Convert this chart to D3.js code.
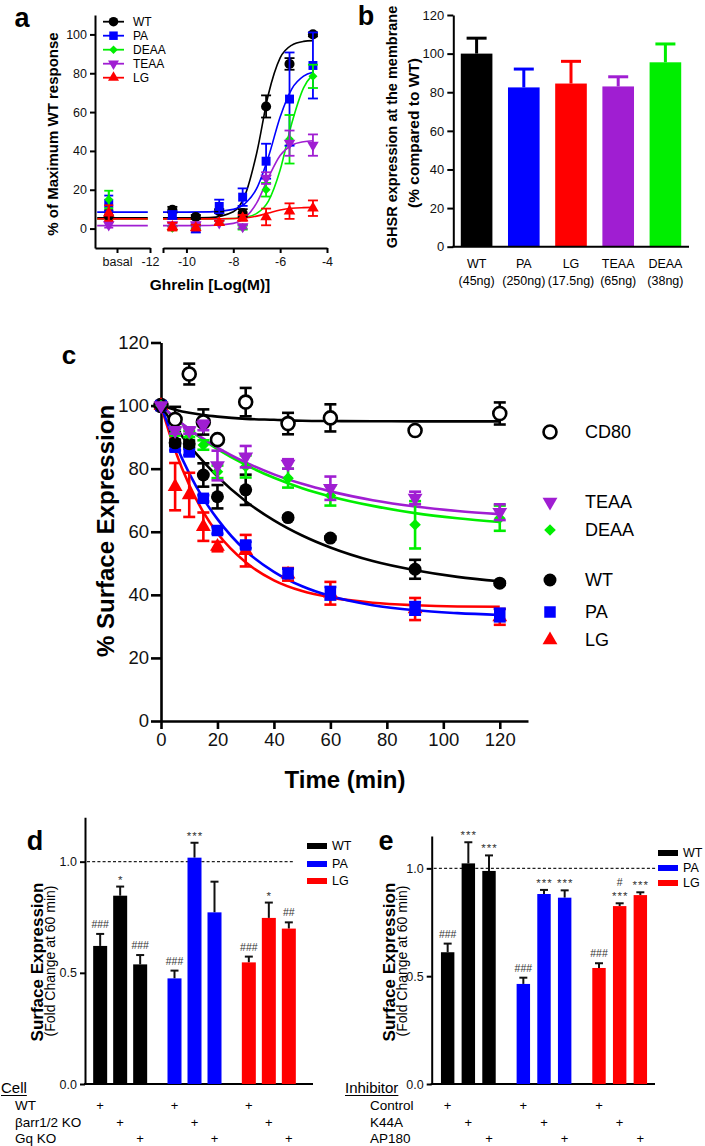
<!DOCTYPE html>
<html><head><meta charset="utf-8">
<script src="https://cdn.jsdelivr.net/npm/d3@7"></script>
<style>body{margin:0;background:#fff}svg{display:block}</style>
</head><body><svg id="chart" width="705" height="1146"></svg>
<script>
// ================= DATA =================
// colours
const COL = {WT:"#000000", PA:"#0000ff", LG:"#ff0000", TEAA:"#a01ed2", DEAA:"#00ee00", CD80:"#000000"};

// ---- panel a : dose response ----
const aSeries = ["WT","PA","DEAA","TEAA","LG"];
const aDoses = [-10.6,-9.6,-8.6,-7.6,-6.6,-5.6,-4.6];
const aBasal = [6.5,13,15,2,8];
const aBasalErr = [3,4,4.5,1.5,4];
const aWT = [9.7,6,9,8,62.9,84.8,100];      const aWTerr = [1.5,1,1,2,5.7,3,1];
const aPA = [7,0,11.4,16.2,34.7,66.7,84];   const aPAerr = [2,2,3.5,4.5,9,24,17];
const aDEAA = [0.2,1,3,0.5,20,46,78.4];     const aDEAAerr = [1,1,1,1,3.5,12.5,6];
const aTEAA = [2,2,3,1,26,44,43];           const aTEAAerr = [1,1,1,1,3,6.5,5.5];
const aLG = [1,0.5,3,5.5,6,9,10.5];         const aLGerr = [2,1.5,1,1.5,4.3,4,4];
const aCurveX = [-11,-10,-9,-8,-7.5,-7,-6.5,-6,-5.5,-5,-4.6];
const aWTfit = [5.5,5.5,5.7,8.7,17.1,38.9,69.2,87.9,94.5,96.4,96.8];
const aPAfit = [8.5,8.5,8.6,9.9,12.9,20.7,36.9,57.5,72,78.5,80.5];
const aDEAAfit = [5,5,5,5.2,5.8,7.8,14.2,30.2,54.4,72.5,79.4];
const aTEAAfit = [1.5,1.5,1.6,2.7,5.6,13.2,26.3,37.6,42.9,44.7,45.2];
const aLGfit = [5,5,5,5.2,5.5,6.4,8,9.6,10.5,10.8,10.9];
const aYTicks = [0,20,40,60,80,100];
const aXTicks = [-10,-8,-6,-4];

// ---- panel b ----
const bCats = ["WT","PA","LG","TEAA","DEAA"];
const bSub = ["(45ng)","(250ng)","(17.5ng)","(65ng)","(38ng)"];
const bVals = [100,82.5,84.5,83,95.5];
const bErr = [8,9.5,11.5,5,9.5];
const bYTicks = [0,20,40,60,80,100,120];

// ---- panel c : time course ----
const cTimes = [0,5,10,15,20,30,45,60,90,120];
const cCD80 = [100,95.6,110,94.8,89.2,101.1,94.3,96.1,92.1,97.5];  const cCD80err = [0,4,3.3,4,0,4.5,3.4,4.3,0,3.5];
const cTEAA = [100,92.1,92.1,93.7,81,83.8,81.5,73.8,70.7,66.2];    const cTEAAerr = [0,1,1,1.5,4.7,3.4,1.5,3.7,2,2.5];
const cDEAA = [100,91.5,91,87.5,79,80.7,77,71.5,62.2,64.3];        const cDEAAerr = [0,1,1,1.5,2,3.5,3,3.2,7.5,4];
const cWT = [100,88.2,87.9,78,71.1,73.3,64.5,58,48.1,43.7];        const cWTerr = [0,1,1,3.7,3.7,4.8,0.5,0.5,3,0.5];
const cPA = [100,86.8,85.3,70.6,60.4,55.8,46.8,40.5,35.7,33.6];    const cPAerr = [0,1,1,1,1,1,1.5,2,2,2];
const cLG = [100,74.3,71.7,61.6,55.3,54,46.5,40.5,35.5,33];        const cLGerr = [0,7.5,7,4.5,1.5,5,2,3.6,3.5,2.5];
const cFitT = [0,5,10,15,20,30,40,50,60,75,90,105,120];
const cCD80fit = [100,98.7,97.7,97,96.5,95.8,95.5,95.2,95.1,95.05,95,95,95];
const cTEAAfit = [100,96.1,92.6,89.5,86.7,82,78.2,75.2,72.8,70,68,66.6,65.6];
const cDEAAfit = [100,96,92.4,89.1,86.2,81.2,77.1,73.8,71.2,68.2,65.9,64.3,63.1];
const cWTfit = [100,93.3,87.4,82.2,77.5,69.7,63.6,58.8,55,50.7,47.8,45.7,44.3];
const cPAfit = [100,88.2,78.5,70.5,64,54,47.3,42.7,39.6,36.7,35.1,34.2,33.6];
const cLGfit = [100,85.8,74.8,66.2,59.5,50.3,44.6,41.2,39.2,37.5,36.7,36.3,36.2];
const cTicks = [0,20,40,60,80,100,120];
const cLegend = ["CD80","TEAA","DEAA","WT","PA","LG"];

// ---- panel d ----
const dGroups = ["WT","PA","LG"];
const dConds = ["WT","βarr1/2 KO","Gq KO"];
const dWT = [0.621,0.847,0.538]; const dWTerr = [0.054,0.041,0.042]; const dWTann = ["###","*","###"];
const dPA = [0.475,1.018,0.772]; const dPAerr = [0.035,0.067,0.138]; const dPAann = ["###","***",""];
const dLG = [0.547,0.747,0.699]; const dLGerr = [0.026,0.069,0.028]; const dLGann = ["###","*","##"];
// ---- panel e ----
const eConds = ["Control","K44A","AP180"];
const eWT = [0.611,1.023,0.988]; const eWTerr = [0.04,0.098,0.072]; const eWTann = ["###","***","***"];
const ePA = [0.464,0.881,0.864]; const ePAerr = [0.029,0.019,0.034]; const ePAann = ["###","***","***"];
const eLG = [0.538,0.825,0.876]; const eLGerr = [0.022,0.013,0.013]; const eLGann = ["###","#|***","***"];
const deTicks = [0,0.5,1.0];

// ================= DRAW =================
const FONT = '"Liberation Sans", Arial, Helvetica, sans-serif';
const svg = d3.select("#chart").attr("font-family", FONT);
svg.append("rect").attr("width",705).attr("height",1146).attr("fill","#fff");

function styleAxis(g, sw, fs){
  g.attr("font-family", FONT);
  g.select(".domain").attr("stroke","#000").attr("stroke-width",sw);
  g.selectAll(".tick line").attr("stroke","#000").attr("stroke-width",sw);
  g.selectAll(".tick text").attr("fill","#111").style("font-size",fs+"px");
}
function label(x,y,str,size,weight,anchor){
  return svg.append("text").attr("x",x).attr("y",y).attr("text-anchor",anchor||"start")
    .style("font-size",size+"px").style("font-weight",weight||"normal").attr("fill","#000").text(str);
}
function vlabel(x,y,str,size,weight){
  return svg.append("text").attr("transform",`translate(${x},${y}) rotate(-90)`)
    .attr("text-anchor","middle").attr("dominant-baseline","central")
    .style("font-size",size+"px").style("font-weight",weight||"normal").attr("fill","#000").text(str);
}
const SYM = {WT:d3.symbolCircle, CD80:d3.symbolCircle, PA:d3.symbolSquare, LG:d3.symbolTriangle, TEAA:d3.symbolTriangle, DEAA:d3.symbolDiamond2};
function marker(g, name, x, y, k){
  const sizes = {WT:80,CD80:80,PA:80,LG:58,TEAA:58,DEAA:52};
  const p = d3.symbol().type(SYM[name]).size(sizes[name]*k)();
  const rot = name==="TEAA" ? " rotate(180)" : "";
  const el = g.append("path").attr("d",p).attr("transform",`translate(${x},${y})${rot}`);
  if(name==="CD80") el.attr("fill","#fff").attr("stroke","#000").attr("stroke-width",2.6);
  else el.attr("fill",COL[name]);
  return el;
}
function errbar(g, x, y0, y1, cap, color, sw){
  g.append("line").attr("x1",x).attr("x2",x).attr("y1",y0).attr("y2",y1).attr("stroke",color).attr("stroke-width",sw);
  g.append("line").attr("x1",x-cap).attr("x2",x+cap).attr("y1",y1).attr("y2",y1).attr("stroke",color).attr("stroke-width",sw);
}

// ---------- panel a ----------
{
  const g = svg.append("g");
  const y = d3.scaleLinear().domain([-10,110]).range([248,15]);
  const xb = d3.scaleLinear().domain([-14,-12]).range([95,150]);
  const x = d3.scaleLinear().domain([-11,-4]).range([163,327]);
  const basalMark = -13.5, basalTick = -13.2;
  const ya = g.append("g").attr("transform","translate(95,0)")
    .call(d3.axisLeft(y).tickValues(aYTicks).tickSize(5).tickSizeOuter(0).tickPadding(3));
  styleAxis(ya,2,12.5);
  const xa1 = g.append("g").attr("transform","translate(0,248)")
    .call(d3.axisBottom(xb).tickValues([basalTick,-12]).tickSize(5).tickSizeOuter(0).tickPadding(4)
      .tickFormat(d=> d===-12 ? "-12" : "basal"));
  styleAxis(xa1,2,12.5);
  const xa2 = g.append("g").attr("transform","translate(0,248)")
    .call(d3.axisBottom(x).tickValues([-11].concat(aXTicks)).tickSize(5).tickSizeOuter(0).tickPadding(4)
      .tickFormat(d=> d===-11 ? "" : String(d)));
  styleAxis(xa2,2,12.5);
  label(22,27,"a",27,"bold","middle");
  vlabel(52,134,"% of Maximum WT response",15,"bold");
  label(210,290,"Ghrelin [Log(M)]",15.5,"bold","middle");

  const vals = {WT:aWT,PA:aPA,DEAA:aDEAA,TEAA:aTEAA,LG:aLG};
  const errs = {WT:aWTerr,PA:aPAerr,DEAA:aDEAAerr,TEAA:aTEAAerr,LG:aLGerr};
  const fits = {WT:aWTfit,PA:aPAfit,DEAA:aDEAAfit,TEAA:aTEAAfit,LG:aLGfit};
  const line = d3.line().x(d=>x(d[0])).y(d=>y(d[1])).curve(d3.curveMonotoneX);
  aSeries.forEach((s,si)=>{
    const fit = fits[s];
    g.append("path").attr("d", line(aCurveX.map((v,i)=>[v,fit[i]]))).attr("fill","none").attr("stroke",COL[s]).attr("stroke-width",1.6);
    g.append("line").attr("x1",xb(-13.92)).attr("x2",xb(-12.08)).attr("y1",y(fit[0])).attr("y2",y(fit[0])).attr("stroke",COL[s]).attr("stroke-width",1.6);
  });
  aSeries.forEach((s,si)=>{
    const v = vals[s], e = errs[s];
    errbar(g, xb(basalMark), y(aBasal[si]-aBasalErr[si]), y(aBasal[si]+aBasalErr[si]), 4.5, COL[s], 1.8);
    errbar(g, xb(basalMark), y(aBasal[si]+aBasalErr[si]), y(aBasal[si]-aBasalErr[si]), 4.5, COL[s], 1.8);
    marker(g, s, xb(basalMark), y(aBasal[si]), 1);
    aDoses.forEach((d,i)=>{
      errbar(g, x(d), y(v[i]), y(v[i]+e[i]), 5, COL[s], 1.8);
      errbar(g, x(d), y(v[i]), y(v[i]-e[i]), 5, COL[s], 1.8);
      marker(g, s, x(d), y(v[i]), 1);
    });
  });
  // legend
  aSeries.forEach((s,i)=>{
    const ly = 21.7 + i*14;
    g.append("line").attr("x1",103).attr("x2",124).attr("y1",ly).attr("y2",ly).attr("stroke",COL[s]).attr("stroke-width",1.8);
    marker(g, s, 113.5, ly, 0.9);
    g.append("text").attr("x",133).attr("y",ly).attr("dominant-baseline","central").style("font-size","12px").text(s);
  });
}

// ---------- panel b ----------
{
  const g = svg.append("g");
  const x = d3.scaleBand().domain(bCats).range([453,689]).paddingInner(0.33).paddingOuter(0.165);
  const y = d3.scaleLinear().domain([0,120]).range([246.7,15]);
  bCats.forEach((c,i)=>{
    const cx = x(c)+x.bandwidth()/2;
    errbar(g, cx, y(bVals[i]), y(bVals[i]+bErr[i]), 10, COL[c], 3);
    g.append("rect").attr("x",x(c)).attr("width",x.bandwidth()).attr("y",y(bVals[i])).attr("height",y(0)-y(bVals[i])).attr("fill",COL[c]);
    g.append("text").attr("x",cx).attr("y",268).attr("text-anchor","middle").style("font-size","12.5px").text(c);
    g.append("text").attr("x",cx).attr("y",285).attr("text-anchor","middle").style("font-size","12.5px").text(bSub[i]);
  });
  const ya = g.append("g").attr("transform","translate(453.3,0)")
    .call(d3.axisLeft(y).tickValues(bYTicks).tickSize(6).tickSizeOuter(0).tickPadding(3));
  styleAxis(ya,2,13);
  g.append("line").attr("x1",452.3).attr("x2",689).attr("y1",y(0)).attr("y2",y(0)).attr("stroke","#000").attr("stroke-width",2);
  label(366,25,"b",27,"bold","middle");
  vlabel(391.5,127,"GHSR expression at the membrane",14.5,"bold");
  vlabel(413,133,"(% compared to WT)",15.5,"bold");
}

// ---------- panel c ----------
{
  const g = svg.append("g");
  const x = d3.scaleLinear().domain([0,130]).range([161,528]);
  const y = d3.scaleLinear().domain([0,120]).range([721,342.5]);
  const ya = g.append("g").attr("transform","translate(161,0)")
    .call(d3.axisLeft(y).tickValues(cTicks).tickSize(10).tickSizeOuter(0).tickPadding(2));
  styleAxis(ya,2.6,18.5);
  const xa = g.append("g").attr("transform","translate(0,721)")
    .call(d3.axisBottom(x).tickValues(cTicks).tickSize(8).tickSizeOuter(0).tickPadding(4));
  styleAxis(xa,2.6,18.5);
  label(69,364,"c",26,"bold","middle");
  vlabel(105,531,"% Surface Expression",24,"bold");
  label(345,788,"Time (min)",24,"bold","middle");

  const order = ["CD80","LG","PA","WT","DEAA","TEAA"];
  const vals = {CD80:cCD80,TEAA:cTEAA,DEAA:cDEAA,WT:cWT,PA:cPA,LG:cLG};
  const errs = {CD80:cCD80err,TEAA:cTEAAerr,DEAA:cDEAAerr,WT:cWTerr,PA:cPAerr,LG:cLGerr};
  const fits = {CD80:cCD80fit,TEAA:cTEAAfit,DEAA:cDEAAfit,WT:cWTfit,PA:cPAfit,LG:cLGfit};
  const line = d3.line().x(d=>x(d[0])).y(d=>y(d[1])).curve(d3.curveMonotoneX);
  order.forEach(s=>{
    g.append("path").attr("d", line(cFitT.map((t,i)=>[t,fits[s][i]]))).attr("fill","none")
      .attr("stroke",COL[s]).attr("stroke-width",2.6);
  });
  order.forEach(s=>{
    const v = vals[s], e = errs[s];
    cTimes.forEach((t,i)=>{
      if(e[i]>0){
        errbar(g, x(t), y(v[i]), y(v[i]+e[i]), 6, COL[s], 2.6);
        errbar(g, x(t), y(v[i]), y(v[i]-e[i]), 6, COL[s], 2.6);
      }
      marker(g, s, x(t), y(v[i]), 1.65);
    });
  });
  const legY = {CD80:432,TEAA:502,DEAA:530,WT:580,PA:612,LG:640};
  cLegend.forEach(s=>{
    marker(g, s, 550, legY[s], 1.65);
    g.append("text").attr("x",585).attr("y",legY[s]).attr("dominant-baseline","central").style("font-size","18px").text(s);
  });
}

// ---------- panels d and e ----------
function barPanel(opt){
  const g = svg.append("g");
  const y = d3.scaleLinear().domain([0,opt.ymax]).range([1084,opt.ytop]);
  const gx = d3.scaleBand().domain(dGroups).range(opt.grange);
  const ix = d3.scaleBand().domain([0,1,2]).range(opt.irange).paddingInner(opt.pin).paddingOuter(opt.pin/2);
  const ya = g.append("g").attr("transform",`translate(${opt.axisX},0)`)
    .call(d3.axisLeft(y).tickValues(deTicks).tickSize(5).tickSizeOuter(0).tickPadding(3).tickFormat(d3.format(".1f")));
  styleAxis(ya,2,12.5);
  g.append("line").attr("x1",opt.axisX-1).attr("x2",opt.axisEnd).attr("y1",y(0)).attr("y2",y(0)).attr("stroke","#000").attr("stroke-width",2);
  g.append("line").attr("x1",opt.axisX+2).attr("x2",opt.dashEnd).attr("y1",y(1)).attr("y2",y(1))
    .attr("stroke","#222").attr("stroke-width",1.2).attr("stroke-dasharray","3,2.2");
  dGroups.forEach((grp,gi)=>{
    const vals = opt.vals[gi], errs = opt.errs[gi], anns = opt.anns[gi];
    [0,1,2].forEach(i=>{
      const cx = gx(grp)+gx.bandwidth()/2 + ix(i) + ix.bandwidth()/2;
      const top = y(vals[i]+errs[i]);
      errbar(g, cx, y(vals[i]), top, 4, "#111", 2);
      g.append("rect").attr("x",gx(grp)+gx.bandwidth()/2+ix(i)).attr("width",ix.bandwidth())
        .attr("y",y(vals[i])).attr("height",y(0)-y(vals[i])).attr("fill",COL[grp]);
      const lines = anns[i] ? anns[i].split("|").reverse() : [];
      lines.forEach((t,k)=>{
        const star = t.indexOf("*")>=0;
        g.append("text").attr("x",cx + (star?0.5:0)).attr("y",top - (star?3:6) - k*11).attr("text-anchor","middle")
          .style("font-size", star?"11.5px":"10.5px").style("letter-spacing", star?"1px":"0px")
          .attr("fill","#333").text(t);
      });
      // "+" signs for the table
      g.append("text").attr("x",cx).attr("y",[1110,1127,1143][i]).attr("text-anchor","middle")
        .style("font-size","13px").text("+");
    });
  });
  // legend
  dGroups.forEach((grp,i)=>{
    g.append("rect").attr("x",opt.legX).attr("y",opt.legY[i]-3).attr("width",20).attr("height",6).attr("fill",COL[grp]);
    g.append("text").attr("x",opt.legX+25).attr("y",opt.legY[i]).attr("dominant-baseline","central").style("font-size","12.5px").text(grp);
  });
  label(opt.letterX,850,opt.letter,27,"bold","middle");
  vlabel(opt.titleX,962,"Surface Expression",17,"bold");
  vlabel(opt.titleX+13,961,"(Fold Change at 60 min)",14,"normal");
  const hd = label(opt.headX,1093,opt.head,15,"normal");
  const w = hd.node().getComputedTextLength();
  svg.append("line").attr("x1",opt.headX).attr("x2",opt.headX+w).attr("y1",1095.5).attr("y2",1095.5).attr("stroke","#000").attr("stroke-width",1);
  opt.conds.forEach((c,i)=> label(opt.rowX,[1110,1127,1143][i],c,13.5,"normal"));
}
barPanel({ymax:1.2, ytop:817.2, grange:[83,306], irange:[-30,30], pin:0.3, axisX:85, axisEnd:313, dashEnd:293,
  vals:[dWT,dPA,dLG], errs:[dWTerr,dPAerr,dLGerr], anns:[dWTann,dPAann,dLGann],
  legX:307, legY:[846,864,881], letter:"d", letterX:35, titleX:37, head:"Cell", headX:1, rowX:15, conds:dConds});
barPanel({ymax:1.15, ytop:836, grange:[430.5,657.5], irange:[-31,31], pin:0.35, axisX:431.7, axisEnd:655, dashEnd:657,
  vals:[eWT,ePA,eLG], errs:[eWTerr,ePAerr,eLGerr], anns:[eWTann,ePAann,eLGann],
  legX:658, legY:[853,868,883], letter:"e", letterX:386, titleX:389, head:"Inhibitor", headX:345, rowX:370, conds:eConds});
</script></body></html>
